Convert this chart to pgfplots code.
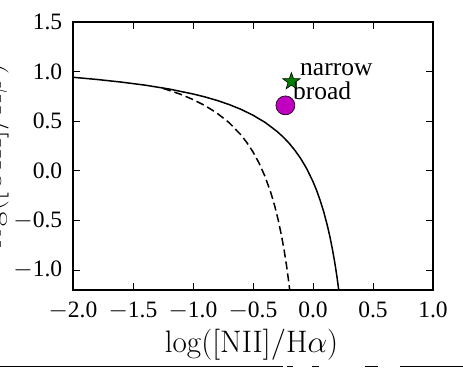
\documentclass[border=0pt]{standalone}
\usepackage[no-math]{fontspec}
\setmainfont{Liberation Serif}
\usepackage{graphicx}
\usepackage{pgfplots}
\pgfplotsset{compat=1.18}

% filled five-pointed star marker
\pgfdeclareplotmark{fivestar}{%
  \pgfpathmoveto{\pgfpointpolar{90}{\pgfplotmarksize}}%
  \pgfpathlineto{\pgfpointpolar{126}{0.4\pgfplotmarksize}}%
  \pgfpathlineto{\pgfpointpolar{162}{\pgfplotmarksize}}%
  \pgfpathlineto{\pgfpointpolar{198}{0.4\pgfplotmarksize}}%
  \pgfpathlineto{\pgfpointpolar{234}{\pgfplotmarksize}}%
  \pgfpathlineto{\pgfpointpolar{270}{0.4\pgfplotmarksize}}%
  \pgfpathlineto{\pgfpointpolar{306}{\pgfplotmarksize}}%
  \pgfpathlineto{\pgfpointpolar{342}{0.4\pgfplotmarksize}}%
  \pgfpathlineto{\pgfpointpolar{18}{\pgfplotmarksize}}%
  \pgfpathlineto{\pgfpointpolar{54}{0.4\pgfplotmarksize}}%
  \pgfpathclose
  \pgfusepathqfillstroke
}

\definecolor{mplgreen}{RGB}{0,128,0}
\definecolor{mplmagenta}{RGB}{191,0,191}

\newcommand{\axtitle}[1]{\scalebox{1.25}{\fontsize{24.88}{28}\selectfont$#1$}}

\begin{document}
\fontsize{23}{27}\selectfont
\begin{tikzpicture}[x=1pt,y=1pt]
\useasboundingbox (0,0) rectangle (463,368);
\begin{axis}[
  at={(73pt,78pt)}, anchor=south west,
  scale only axis, width=360pt, height=268pt,
  xmin=-2, xmax=1, ymin=-1.2, ymax=1.5,
  xtick={-2,-1.5,-1,-0.5,0,0.5,1},
  xticklabels={$-$2.0,$-$1.5,$-$1.0,$-$0.5,0.0,0.5,1.0},
  ytick={-1,-0.5,0,0.5,1,1.5},
  yticklabels={$-$1.0,$-$0.5,0.0,0.5,1.0,1.5},
  tick align=inside, major tick length=7pt,
  tick style={black, line width=0.9pt},
  axis line style={line width=1.6pt},
  xticklabel style={yshift=-4pt},
  yticklabel style={xshift=-3pt},
  ticklabel style={font=\fontsize{23.5}{27}\selectfont},
  clip=true,
]
% maximum starburst line
\addplot[black, line width=1.5pt] coordinates {
(-2.0,0.943) (-1.8,0.921) (-1.6,0.895) (-1.4,0.864) (-1.2,0.825)
(-1.0,0.775) (-0.9,0.745) (-0.8,0.710) (-0.7,0.669) (-0.6,0.620)
(-0.5,0.561) (-0.4,0.489) (-0.3,0.398) (-0.25,0.343) (-0.2,0.280)
(-0.15,0.206) (-0.1,0.120) (-0.05,0.017) (0.0,-0.108) (0.03,-0.196)
(0.06,-0.298) (0.09,-0.415) (0.12,-0.553) (0.14,-0.658) (0.16,-0.778)
(0.18,-0.913) (0.20,-1.069) (0.22,-1.250) (0.24,-1.462)
};
% empirical star-forming boundary
\addplot[black, line width=1.5pt, dash pattern=on 8pt off 4pt] coordinates {
(-1.25,0.831) (-1.2,0.812) (-1.1,0.770) (-1.0,0.719) (-0.9,0.658)
(-0.8,0.582) (-0.7,0.487) (-0.6,0.362) (-0.55,0.283) (-0.5,0.191)
(-0.45,0.080) (-0.4,-0.056) (-0.35,-0.225) (-0.32,-0.349) (-0.29,-0.494)
(-0.26,-0.668) (-0.24,-0.803) (-0.22,-0.959) (-0.20,-1.140) (-0.18,-1.352)
};
% broad component
\addplot[only marks, mark=*, mark size=9.5pt, draw=black, line width=0.6pt, fill=mplmagenta]
  coordinates {(-0.23,0.66)};
% narrow component
\addplot[only marks, mark=fivestar, mark size=9pt, draw=black, line width=0.6pt, fill=mplgreen]
  coordinates {(-0.18,0.90)};
\node[anchor=base west, inner sep=0, font=\fontsize{25.5}{29}\selectfont] at (axis cs:-0.108,0.966) {narrow};
\node[anchor=base west, inner sep=0, font=\fontsize{25.5}{29}\selectfont] at (axis cs:-0.167,0.715) {broad};
\end{axis}
% axis titles
\node[anchor=base, inner sep=0] at (251.5,16) {\axtitle{\log([\mathrm{NII}]/\mathrm{H}\alpha)}};
\node[rotate=90, anchor=base, inner sep=0] at (1,212) {\axtitle{\log([\mathrm{OIII}]/\mathrm{H}\beta)}};
% edge of the panel below
\draw[line width=1.5pt] (0,1.5) -- (283,1.5);
\draw[line width=1.5pt] (287,1.5) -- (293,1.5);
\draw[line width=1.5pt] (312,1.5) -- (319,1.5);
\draw[line width=1.5pt] (365,1.5) -- (378,1.5);
\draw[line width=1.5pt] (400,1.5) -- (463,1.5);
\end{tikzpicture}
\end{document}
